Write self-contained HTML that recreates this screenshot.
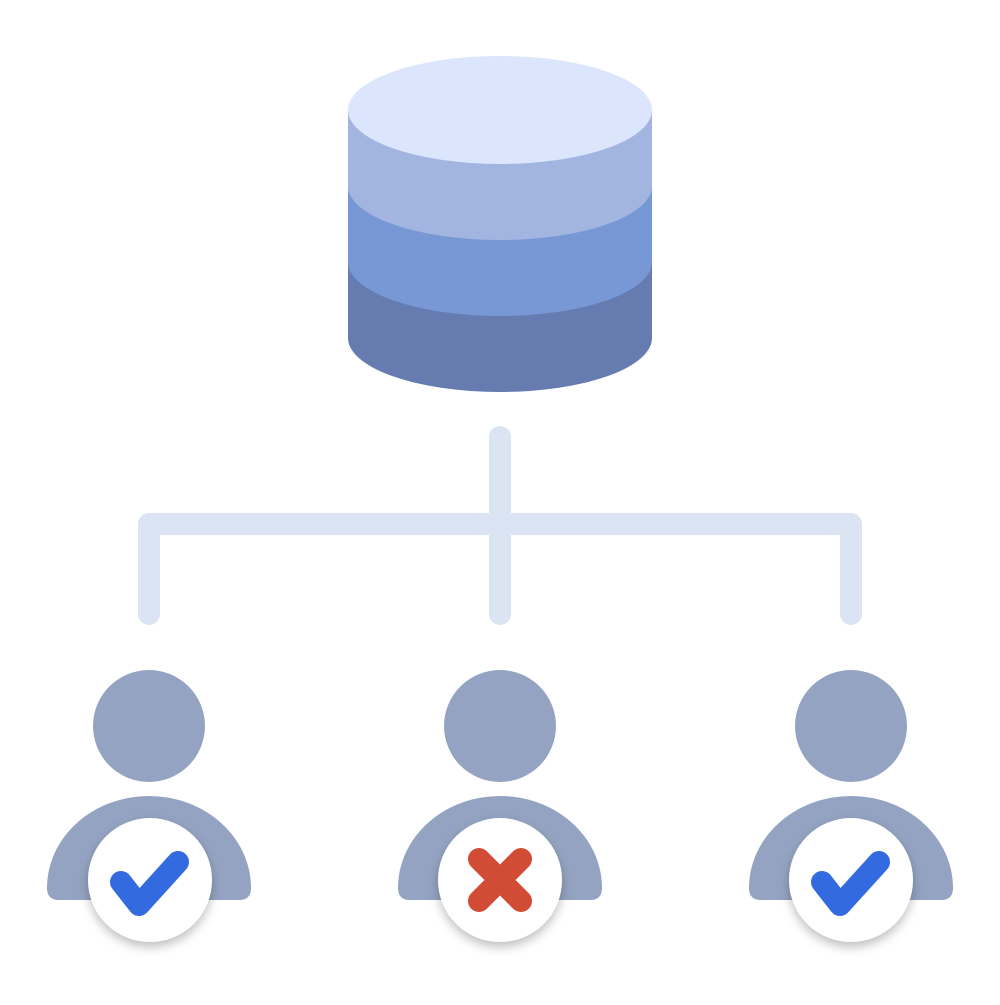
<!DOCTYPE html>
<html><head><meta charset="utf-8"><style>html,body{margin:0;padding:0;background:#fff}</style></head>
<body>
<svg width="1000" height="1000" viewBox="0 0 1000 1000" xmlns="http://www.w3.org/2000/svg">
<defs>
<filter id="sh" x="-30%" y="-30%" width="160%" height="170%"><feDropShadow dx="0" dy="5" stdDeviation="5" flood-color="#000" flood-opacity="0.25"/></filter>
</defs>
<!-- database -->
<rect x="348" y="262" width="304" height="76" fill="#667cb0"/>
<ellipse cx="500" cy="338" rx="152" ry="54" fill="#667cb0"/>
<rect x="348" y="186" width="304" height="76" fill="#7897d5"/>
<ellipse cx="500" cy="262" rx="152" ry="54" fill="#7897d5"/>
<rect x="348" y="110" width="304" height="76" fill="#a2b5e0"/>
<ellipse cx="500" cy="186" rx="152" ry="54" fill="#a2b5e0"/>
<ellipse cx="500" cy="110" rx="152" ry="54" fill="#dbe5fc"/>
<!-- connectors -->
<g stroke="#dbe4f3" stroke-width="22" stroke-linecap="round" stroke-linejoin="round" fill="none">
<line x1="500" y1="437" x2="500" y2="614"/>
<polyline points="149,614 149,524 851,524 851,614"/>
</g>
<!-- people -->
<g fill="#93a3c1">
<circle cx="149" cy="726" r="56"/>
<path d="M47,888 A102,92 0 0 1 251,888 Q251,900 239,900 L59,900 Q47,900 47,888 Z"/>
<circle cx="500" cy="726" r="56"/>
<path d="M398,888 A102,92 0 0 1 602,888 Q602,900 590,900 L410,900 Q398,900 398,888 Z"/>
<circle cx="851" cy="726" r="56"/>
<path d="M749,888 A102,92 0 0 1 953,888 Q953,900 941,900 L761,900 Q749,900 749,888 Z"/>
</g>
<g fill="#fff" filter="url(#sh)">
<circle cx="150" cy="880" r="62"/>
<circle cx="500" cy="880" r="62"/>
<circle cx="851" cy="880" r="62"/>
</g>
<g stroke-width="22" stroke-linecap="round" stroke-linejoin="round" fill="none">
<polyline points="121,882 139,905 178,862" stroke="#346ae0"/>
<polyline points="822,882 840,905 879,862" stroke="#346ae0"/>
<line x1="479" y1="859" x2="521" y2="901" stroke="#d24c35"/>
<line x1="521" y1="859" x2="479" y2="901" stroke="#d24c35"/>
</g>
</svg>
</body></html>
